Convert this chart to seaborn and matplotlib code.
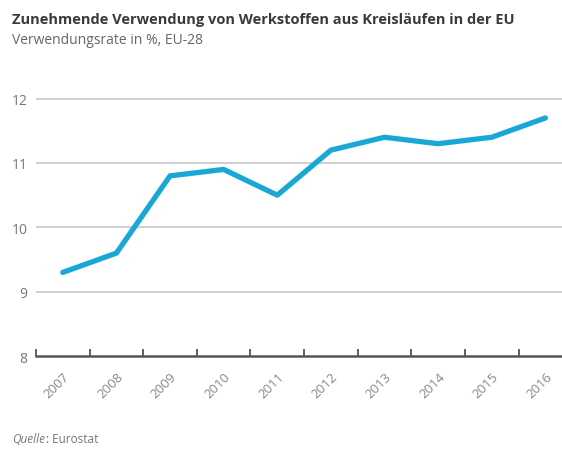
import pandas as pd
import seaborn as sns
import matplotlib.pyplot as plt

# data
years = ['2007', '2008', '2009', '2010', '2011', '2012', '2013', '2014', '2015', '2016']
rate = [9.3, 9.6, 10.8, 10.9, 10.5, 11.2, 11.4, 11.3, 11.4, 11.7]
y_ticks = [8, 9, 10, 11, 12]

df = pd.DataFrame({'pos': range(len(years)), 'rate': rate})

sns.set_style('white')
plt.rcParams['font.family'] = ['Open Sans', 'DejaVu Sans']

fig = plt.figure(figsize=(5.62, 4.52), dpi=100)
ax = fig.add_axes([0.064, 0.21, 0.936, 0.655])

sns.lineplot(data=df, x='pos', y='rate', color='#19a8d5', linewidth=3.8,
             solid_capstyle='round', solid_joinstyle='round', ax=ax, zorder=3)

ax.set_xlim(-0.48, 9.31)
ax.set_ylim(8, 12.6)
ax.set_yticks(y_ticks)
ax.set_yticklabels([str(v) for v in y_ticks], color='#777777', fontsize=10)
for v in y_ticks[1:]:
    ax.axhline(v, color='#cccccc', linewidth=1.3, zorder=1)

# category boundaries as tick marks, labels at the points
ax.set_xticks([i - 0.5 for i in range(len(years))])
ax.set_xticklabels([])
ax.set_xticks(range(len(years)), minor=True)
ax.set_xticklabels(years, minor=True, rotation=45, ha='right',
                   rotation_mode='anchor', color='#888888', fontsize=9.5)
ax.tick_params(axis='x', which='major', direction='in', length=5, width=1.3,
               color='#555555', bottom=True)
ax.tick_params(axis='x', which='minor', length=0, pad=10)
ax.tick_params(axis='y', length=0, pad=6)

for s in ['top', 'right', 'left']:
    ax.spines[s].set_visible(False)
ax.spines['bottom'].set_color('#555555')
ax.spines['bottom'].set_linewidth(1.8)
ax.set_xlabel('')
ax.set_ylabel('')

fig.text(0.021, 0.955, 'Zunehmende Verwendung von Werkstoffen aus Kreisläufen in der EU',
         fontsize=10.5, fontweight='bold', color='#3a3a3a', va='center')
fig.text(0.021, 0.91, 'Verwendungsrate in %, EU-28', fontsize=10,
         color='#666666', va='center')
fig.text(0.021, 0.027, 'Quelle', fontsize=8.5, style='italic', color='#777777', va='center')
fig.text(0.082, 0.027, ': Eurostat', fontsize=8.5, color='#777777', va='center')

fig.savefig('out.png', dpi=100)
